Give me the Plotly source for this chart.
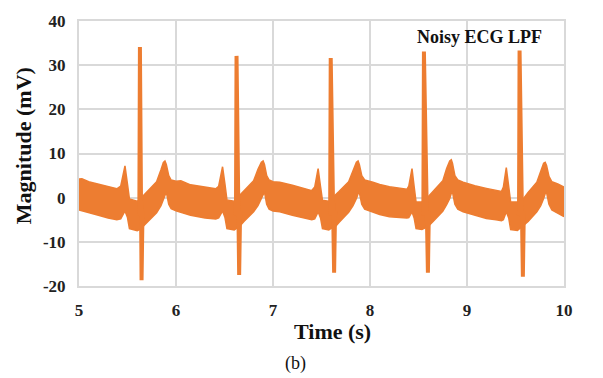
import plotly.graph_objects as go

# Envelope of the noisy (low-pass filtered) ECG band: time (s), upper / lower edge (mV)
env_t = [
    5.000, 5.030, 5.100, 5.200, 5.300, 5.390,
    5.430, 5.474, 5.500, 5.520, 5.600, 5.628, 5.660, 5.700, 5.800, 5.845, 5.870, 5.886, 5.900, 5.925, 5.950,
    6.000, 6.050, 6.150, 6.300, 6.410,
    6.440, 6.480, 6.505, 6.525, 6.600, 6.624, 6.655, 6.700, 6.800, 6.845, 6.880, 6.898, 6.912, 6.935, 6.960,
    7.000, 7.070, 7.200, 7.330, 7.400,
    7.430, 7.465, 7.490, 7.510, 7.575, 7.595, 7.630, 7.680, 7.780, 7.825, 7.860, 7.877, 7.890, 7.915, 7.945,
    8.030, 8.100, 8.200, 8.300, 8.380,
    8.400, 8.433, 8.455, 8.475, 8.535, 8.556, 8.600, 8.650, 8.750, 8.790, 8.822, 8.838, 8.850, 8.875, 8.905,
    8.960, 9.080, 9.200, 9.300, 9.355,
    9.375, 9.405, 9.430, 9.450, 9.520, 9.542, 9.580, 9.630, 9.720, 9.760, 9.790, 9.806, 9.820, 9.845, 9.875,
    9.936, 10.000,
]
env_upper = [
    4.2, 4.3, 3.6, 3.0, 2.4, 2.0,
    2.6, 7.2, 3.0, -0.3, -0.8, -0.5, 0.4, 1.3, 3.6, 6.3, 8.0, 8.3, 7.5, 5.0, 4.0,
    3.7, 3.8, 2.9, 2.3, 2.0,
    2.6, 7.0, 3.0, -0.5, -0.8, -0.5, 0.5, 1.5, 3.8, 6.4, 8.0, 8.3, 7.5, 5.0, 4.0,
    3.6, 3.5, 2.8, 2.0, 1.6,
    2.4, 6.6, 2.5, -0.6, -0.8, -0.4, 0.2, 1.4, 3.6, 6.3, 8.0, 8.3, 7.5, 5.0, 4.0,
    3.5, 3.0, 2.5, 2.1, 1.9,
    2.6, 6.6, 2.5, -1.0, -1.0, -0.5, 0.2, 1.4, 3.8, 6.6, 8.3, 8.6, 7.8, 5.0, 4.0,
    3.5, 2.7, 2.1, 1.6, 1.4,
    2.4, 6.8, 2.5, -1.0, -1.0, -0.5, -0.3, 1.2, 3.5, 6.0, 7.8, 8.0, 7.3, 4.8, 3.6,
    3.1, 2.4,
]
env_lower = [
    -2.8, -3.0, -3.3, -4.0, -4.6, -5.0,
    -4.8, -3.0, -4.5, -7.0, -7.5, -7.2, -6.5, -5.6, -3.4, -1.8, -0.2, 0.8, 1.3, -1.5, -2.5,
    -3.0, -3.3, -4.0, -4.6, -4.8,
    -4.6, -3.0, -4.5, -7.0, -7.3, -7.0, -6.5, -5.4, -3.2, -1.8, -0.2, 0.9, 1.3, -1.5, -2.6,
    -3.0, -3.2, -4.0, -4.7, -5.0,
    -4.8, -3.2, -4.6, -7.0, -7.3, -7.0, -6.9, -5.6, -3.3, -1.8, -0.2, 0.9, 1.2, -1.5, -2.6,
    -3.2, -3.8, -4.3, -4.5, -4.6,
    -4.5, -3.2, -4.6, -7.0, -7.2, -7.0, -6.5, -5.4, -3.1, -1.6, -0.2, 1.0, 1.3, -1.5, -2.6,
    -3.2, -3.9, -4.7, -5.0, -5.2,
    -5.0, -3.2, -4.6, -7.2, -7.4, -7.0, -6.5, -5.4, -3.2, -1.8, -0.2, 0.9, 1.2, -1.5, -2.8,
    -3.5, -4.3,
]

# QRS complexes: onset, R peak, S trough, return to the band
q_time = [5.622, 6.618, 7.589, 8.550, 9.536]
q_level = [-4.0, -4.0, -4.0, -4.0, -4.0]
r_time = [5.628, 6.624, 7.595, 8.556, 9.542]
r_peak = [34.1, 32.1, 31.6, 33.1, 33.3]
s_time = [5.645, 6.651, 7.630, 8.597, 9.576]
s_trough = [-18.7, -17.5, -17.0, -17.0, -17.9]
j_time = [5.655, 6.661, 7.640, 8.607, 9.586]
j_level = [-3.0, -3.0, -3.0, -3.0, -3.0]

# Axis ticks
x_ticks = [5, 6, 7, 8, 9, 10]
y_ticks = [-20, -10, 0, 10, 20, 30, 40]
y_tick_text = ["-20", "-10", "0", "10", "20", "30", "40"]

ORANGE = "#ED7D31"
GRID = "#D9D9D9"
SERIF = "Liberation Serif, Times New Roman, serif"

W, H = 603, 378
ML, MR, MT, MB = 79, 39, 15, 92


def paper_x(px):
    return (px - ML) / (W - ML - MR)


def paper_y(py):
    return (H - MB - py) / (H - MT - MB)


qrs_x, qrs_y = [], []
for k in range(len(r_time)):
    qrs_x += [q_time[k], r_time[k], s_time[k], j_time[k], None]
    qrs_y += [q_level[k], r_peak[k], s_trough[k], j_level[k], None]

fig = go.Figure()
fig.add_trace(go.Scatter(
    x=env_t, y=env_lower, mode="lines",
    line=dict(color=ORANGE, width=1.5), hoverinfo="skip", showlegend=False,
))
fig.add_trace(go.Scatter(
    x=env_t, y=env_upper, mode="lines", fill="tonexty", fillcolor=ORANGE,
    line=dict(color=ORANGE, width=1.5), hoverinfo="skip", showlegend=False,
))
fig.add_trace(go.Scatter(
    x=qrs_x, y=qrs_y, mode="lines",
    line=dict(color=ORANGE, width=4), hoverinfo="skip", showlegend=False,
))

axis_common = dict(
    showgrid=True, gridcolor=GRID, gridwidth=2,
    showline=True, linecolor=GRID, linewidth=2, mirror=True,
    zeroline=False, ticks="",
    tickfont=dict(family=SERIF, size=17, color="#222222", weight="bold"),
)
fig.update_xaxes(range=[5, 10], tickvals=x_ticks, ticklabelstandoff=8, **axis_common)
fig.update_yaxes(range=[-20, 40], tickvals=y_ticks, ticktext=y_tick_text,
                 ticklabelstandoff=8, **axis_common)


def label(text, px, py, size, angle=0):
    return dict(text=text, xref="paper", yref="paper",
                x=paper_x(px), y=paper_y(py), xanchor="center", yanchor="middle",
                textangle=angle, showarrow=False,
                font=dict(family=SERIF, size=size, color="#111111"))


fig.update_layout(
    width=W, height=H,
    margin=dict(l=ML, r=MR, t=MT, b=MB),
    paper_bgcolor="white", plot_bgcolor="white",
    annotations=[
        label("<b>Magnitude (mV)</b>", 23, 143, 22, angle=-90),
        label("<b>Time (s)</b>", 332, 333, 22),
        label("(b)", 295, 365, 18),
        label("<b>Noisy ECG LPF</b>", 479, 31, 18),
    ],
)

fig.write_html("out.html")
